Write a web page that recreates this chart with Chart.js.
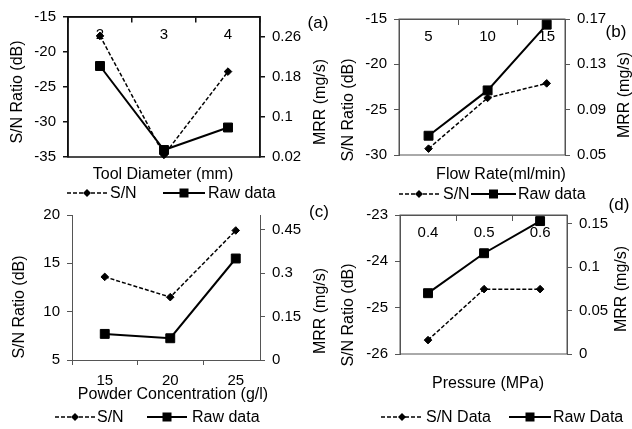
<!DOCTYPE html>
<html>
<head>
<meta charset="utf-8">
<script src="https://cdn.jsdelivr.net/npm/chart.js@4"></script>
<style>
    html, body { margin: 0; padding: 0; background: #fff; }
    #page { position: relative; width: 632px; height: 429px; overflow: hidden;
            font-family: "Liberation Sans", Arial, sans-serif; color: #000; }
    #page canvas { position: absolute; left: 0; top: 0; }
    .t  { position: absolute; white-space: nowrap; font-size: 16px; line-height: 16px;
          transform: translate(-50%, -50%); }
    .v  { transform: translate(-50%, -50%) rotate(-90deg); }
    .pl { font-size: 17px; line-height: 17px; }
    .lg { position: absolute; white-space: nowrap; font-size: 16px; line-height: 16px;
          transform: translateY(-50%); display: flex; align-items: center; }
</style>
</head>
<body>
<div id="page">
    <canvas id="chartA" width="632" height="429"></canvas>
    <canvas id="chartB" width="632" height="429"></canvas>
    <canvas id="chartC" width="632" height="429"></canvas>
    <canvas id="chartD" width="632" height="429"></canvas>

    <div class="t" style="left:163px;top:174px">Tool Diameter (mm)</div>
    <div class="t" style="left:501px;top:174px">Flow Rate(ml/min)</div>
    <div class="t" style="left:173px;top:394px">Powder Concentration (g/l)</div>
    <div class="t" style="left:488px;top:383px">Pressure (MPa)</div>

    <div class="t v" style="left:17px;top:92px">S/N Ratio (dB)</div>
    <div class="t v" style="left:348px;top:110px">S/N Ratio (dB)</div>
    <div class="t v" style="left:19px;top:307px">S/N Ratio (dB)</div>
    <div class="t v" style="left:348px;top:315px">S/N Ratio (dB)</div>

    <div class="t v" style="left:320px;top:102px">MRR (mg/s)</div>
    <div class="t v" style="left:624px;top:95px">MRR (mg/s)</div>
    <div class="t v" style="left:320px;top:311px">MRR (mg/s)</div>
    <div class="t v" style="left:621px;top:289px">MRR (mg/s)</div>

    <div class="t pl" style="left:318px;top:22px">(a)</div>
    <div class="t pl" style="left:616px;top:31px">(b)</div>
    <div class="t pl" style="left:319px;top:211px">(c)</div>
    <div class="t pl" style="left:619px;top:204px">(d)</div>

    <div id="legends"></div>
</div>

<script>
// ── Data ──────────────────────────────────────────────
var toolDiameter = ['2', '3', '4'];
var toolSN       = [-17.7, -34.7, -22.8];
var toolMRR      = [0.202, 0.034, 0.079];
var toolSNTicks  = [-35, -30, -25, -20, -15];
var toolMRRTicks = [0.02, 0.1, 0.18, 0.26];

var flowRate     = ['5', '10', '15'];
var flowSN       = [-29.3, -23.7, -22.1];
var flowMRR      = [0.067, 0.107, 0.165];
var flowSNTicks  = [-30, -25, -20, -15];
var flowMRRTicks = [0.05, 0.09, 0.13, 0.17];

var powderConc     = ['15', '20', '25'];
var powderSN       = [13.6, 11.5, 18.4];
var powderMRR      = [0.09, 0.075, 0.35];
var powderSNTicks  = [5, 10, 15, 20];
var powderMRRTicks = [0, 0.15, 0.3, 0.45];

var pressure         = ['0.4', '0.5', '0.6'];
var pressureSN       = [-25.7, -24.6, -24.6];
var pressureMRR      = [0.070, 0.116, 0.153];
var pressureSNTicks  = [-26, -25, -24, -23];
var pressureMRRTicks = [0, 0.05, 0.1, 0.15];

// ── Helpers ───────────────────────────────────────────
var LW = 50, RW = 50, BH = 34;

var framePlugin = {
    id: 'frame',
    beforeDatasetsDraw: function(chart, args, o) {
        if (!o.show) return;
        var a = chart.chartArea, ctx = chart.ctx;
        ctx.save();
        ctx.strokeStyle = o.color;
        ctx.lineWidth = o.width;
        ctx.strokeRect(a.left, a.top, a.right - a.left, a.bottom - a.top);
        ctx.restore();
    }
};

function toPoints(vals) {
    return vals.map(function(v, i) { return { x: i + 1, y: v }; });
}

function makePanel(id, p) {
    var tickFont = { family: 'Liberation Sans', size: 15 };
    var xTicks = [];
    for (var v = 0.5; v <= p.xMax + 1e-9; v += 0.5) xTicks.push(v);
    var hidden = 'rgba(0,0,0,0)';

    return new Chart(document.getElementById(id), {
        type: 'line',
        data: {
            datasets: [{
                label: 'S/N', data: toPoints(p.sn), yAxisID: 'y',
                borderColor: '#000', borderWidth: 1.5, borderDash: [4, 2],
                pointStyle: 'rectRot', pointRadius: 3.8,
                pointBackgroundColor: '#000', pointBorderColor: '#000', pointBorderWidth: 1,
                clip: false
            }, {
                label: 'Raw data', data: toPoints(p.mrr), yAxisID: 'y1',
                borderColor: '#000', borderWidth: 2,
                pointStyle: 'rect', pointRadius: 6.3,
                pointBackgroundColor: '#000', pointBorderColor: '#000', pointBorderWidth: 1,
                clip: false
            }]
        },
        options: {
            responsive: false, animation: false, events: [],
            layout: { padding: {
                left: p.area.l - LW,
                right: 632 - p.area.r - RW,
                top: p.area.t,
                bottom: p.labelsTop ? 429 - p.area.b : 429 - p.area.b - BH
            } },
            plugins: {
                legend: { display: false },
                tooltip: { enabled: false },
                frame: { show: p.labelsTop, color: p.color, width: p.width }
            },
            scales: {
                x: {
                    type: 'linear', min: 0.5, max: p.xMax,
                    position: p.labelsTop ? { y: p.snMax } : 'bottom',
                    afterBuildTicks: function(s) { s.ticks = xTicks.map(function(v) { return { value: v }; }); },
                    afterFit: function(s) { if (!p.labelsTop) s.height = BH; },
                    ticks: {
                        autoSkip: false, maxRotation: 0, color: '#000', font: tickFont,
                        padding: p.labelsTop ? 4 : 7,
                        callback: function(v) { return v % 1 === 0 ? p.cats[v - 1] : ''; }
                    },
                    grid: {
                        drawOnChartArea: false, tickLength: 5, lineWidth: p.width,
                        tickColor: function(ctx) { return ctx.tick && ctx.tick.value % 1 !== 0 ? p.color : hidden; }
                    },
                    border: { color: p.color, width: p.width }
                },
                y: {
                    position: 'left', min: p.snMin, max: p.snMax,
                    afterBuildTicks: function(s) { s.ticks = p.snTicks.map(function(v) { return { value: v }; }); },
                    afterFit: function(s) { s.width = LW; },
                    ticks: { color: '#000', font: tickFont, padding: 7, callback: function(v) { return String(v); } },
                    grid: { drawOnChartArea: false, tickLength: 5, tickColor: p.color, lineWidth: p.width },
                    border: { color: p.color, width: p.width }
                },
                y1: {
                    position: 'right', min: p.mrrMin, max: p.mrrMax,
                    afterBuildTicks: function(s) { s.ticks = p.mrrTicks.map(function(v) { return { value: v }; }); },
                    afterFit: function(s) { s.width = RW; },
                    ticks: { color: '#000', font: tickFont, padding: 7, callback: function(v) { return String(v); } },
                    grid: { drawOnChartArea: false, tickLength: 5, tickColor: p.color, lineWidth: p.width },
                    border: { color: p.color, width: p.width }
                }
            }
        },
        plugins: [framePlugin]
    });
}

// ── Panels ────────────────────────────────────────────
makePanel('chartA', {
    cats: toolDiameter, sn: toolSN, mrr: toolMRR, snTicks: toolSNTicks, mrrTicks: toolMRRTicks,
    snMin: -35, snMax: -15, mrrMin: 0.02, mrrMax: 0.30, xMax: 3.5,
    area: { l: 68, t: 17, r: 260, b: 157 }, labelsTop: true, color: '#111', width: 1.5
});
makePanel('chartB', {
    cats: flowRate, sn: flowSN, mrr: flowMRR, snTicks: flowSNTicks, mrrTicks: flowMRRTicks,
    snMin: -30, snMax: -15, mrrMin: 0.05, mrrMax: 0.17, xMax: 3.31,
    area: { l: 399, t: 19, r: 565, b: 155 }, labelsTop: true, color: '#555', width: 1
});
makePanel('chartC', {
    cats: powderConc, sn: powderSN, mrr: powderMRR, snTicks: powderSNTicks, mrrTicks: powderMRRTicks,
    snMin: 5, snMax: 20, mrrMin: 0, mrrMax: 0.5, xMax: 3.37,
    area: { l: 72, t: 215, r: 260, b: 360 }, labelsTop: false, color: '#555', width: 1
});
makePanel('chartD', {
    cats: pressure, sn: pressureSN, mrr: pressureMRR, snTicks: pressureSNTicks, mrrTicks: pressureMRRTicks,
    snMin: -26, snMax: -23, mrrMin: 0, mrrMax: 0.16, xMax: 3.48,
    area: { l: 400, t: 215, r: 567, b: 354 }, labelsTop: true, color: '#555', width: 1
});

// ── Legends (html) ────────────────────────────────────
function legendEntry(x, y, w, gap, dashed, text) {
    var mid = w / 2;
    var marker = dashed
        ? '<polygon points="' + (mid - 4) + ',6 ' + mid + ',2 ' + (mid + 4) + ',6 ' + mid + ',10" fill="#000"/>'
        : '<rect x="' + (mid - 4.5) + '" y="1.5" width="9" height="9" fill="#000"/>';
    return '<div class="lg" style="left:' + x + 'px;top:' + y + 'px">' +
        '<svg width="' + w + '" height="12"><line x1="0" y1="6" x2="' + w + '" y2="6" stroke="#000" stroke-width="' +
        (dashed ? 1.5 : 2) + '"' + (dashed ? ' stroke-dasharray="4 2"' : '') + '/>' + marker + '</svg>' +
        '<span style="margin-left:' + gap + 'px">' + text + '</span></div>';
}

document.getElementById('legends').innerHTML =
    legendEntry(67, 193, 40, 3, true, 'S/N') + legendEntry(163, 193, 42, 3, false, 'Raw data') +
    legendEntry(399, 194, 40, 4, true, 'S/N') + legendEntry(471, 194, 45, 2, false, 'Raw data') +
    legendEntry(55, 417, 40, 2, true, 'S/N') + legendEntry(147, 417, 40, 5, false, 'Raw data') +
    legendEntry(381, 417, 42, 3, true, 'S/N Data') + legendEntry(509, 417, 42, 2, false, 'Raw Data');
</script>
</body>
</html>
